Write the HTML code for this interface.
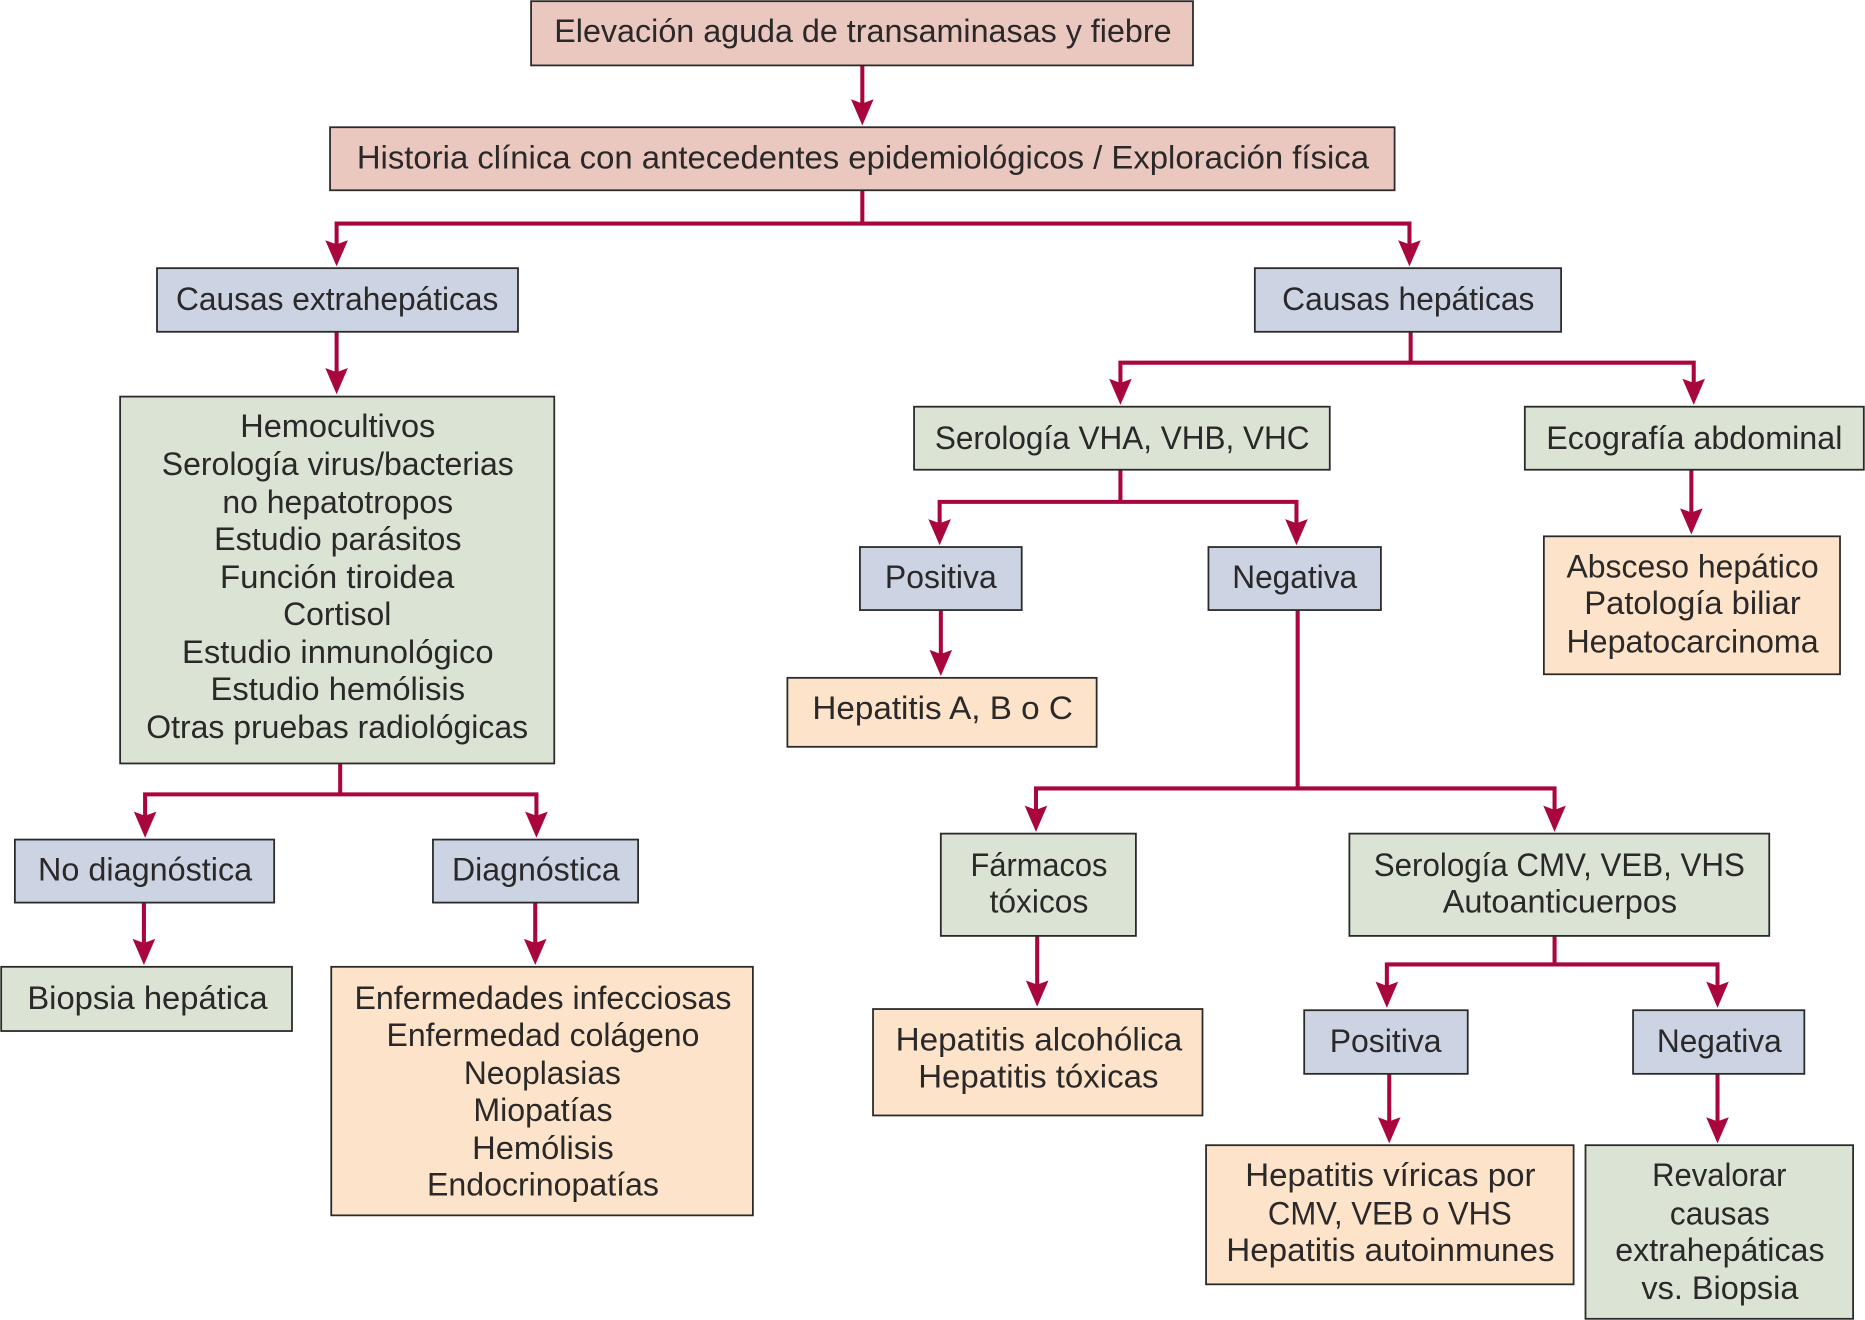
<!DOCTYPE html>
<html lang="es">
<head>
<meta charset="utf-8">
<title>Elevación aguda de transaminasas y fiebre</title>
<style>
html,body{margin:0;padding:0;background:#fff;width:1865px;height:1320px;overflow:hidden}
svg{display:block}
.p{fill:#eac8c0}.b{fill:#ccd3e3}.g{fill:#dae3d4}.o{fill:#fde3c9}
rect{stroke:#2b2a2a;stroke-width:1.5}
.c{fill:none;stroke:#a8063c;stroke-width:3.4}
.h{fill:#a8063c;stroke:none}
text{font-family:"Liberation Sans",sans-serif;font-size:27.5px;fill:#2a2828}
</style>
</head>
<body>
<svg width="1865" height="1320" viewBox="0 0 1568 1110" preserveAspectRatio="none" xmlns="http://www.w3.org/2000/svg">
<defs><polygon id="a" class="h" points="0,0 -9.5,-22 0,-18.500 9.500,-22"/></defs>

<path class="c" d="M725 55V92M725 160V188M283 210V188H1185V210M283 279V318M1186 279V305M942 327V305H1424V327M942 395V422M790 445V422H1090V445M791 513V555M1422 395V436M1091 513V663M871 686V663H1307V686M872 787V833M1307 787V811M1166 834V811H1444V834M1168 903V948M1444 903V948M286 642V668M122 691V668H451V691M121 759V798M450 759V798"/>
<use href="#a" x="725" y="105.500"/><use href="#a" x="283" y="224"/><use href="#a" x="1185" y="224"/><use href="#a" x="283" y="331.500"/>
<use href="#a" x="942" y="340.500"/><use href="#a" x="1424" y="340.500"/><use href="#a" x="790" y="458.500"/><use href="#a" x="1090" y="458.500"/>
<use href="#a" x="791" y="568.500"/><use href="#a" x="1422" y="449.500"/><use href="#a" x="871" y="699.500"/><use href="#a" x="1307" y="699.500"/>
<use href="#a" x="872" y="846.500"/><use href="#a" x="1166" y="847.500"/><use href="#a" x="1444" y="847.500"/><use href="#a" x="1168" y="961.500"/>
<use href="#a" x="1444" y="961.500"/><use href="#a" x="122" y="704.500"/><use href="#a" x="451" y="704.500"/><use href="#a" x="121" y="811.500"/><use href="#a" x="450" y="811.500"/>

<rect class="p" x="446.500" y="1" width="556.500" height="54"/>
<rect class="p" x="277.500" y="107" width="895" height="53"/>
<rect class="b" x="132" y="225.500" width="303.500" height="53.500"/>
<rect class="b" x="1055" y="225.500" width="257.500" height="53.500"/>
<rect class="g" x="101" y="333.500" width="365" height="308.500"/>
<rect class="g" x="768.500" y="342" width="349.500" height="53"/>
<rect class="g" x="1282" y="342" width="285" height="53"/>
<rect class="b" x="723" y="460" width="136" height="53"/>
<rect class="b" x="1016" y="460" width="145" height="53"/>
<rect class="o" x="1298" y="451" width="249" height="116"/>
<rect class="o" x="662" y="570" width="260" height="58"/>
<rect class="b" x="12.500" y="706" width="218" height="53"/>
<rect class="b" x="364" y="706" width="172.500" height="53"/>
<rect class="g" x="1" y="813" width="244.500" height="54"/>
<rect class="o" x="278.500" y="813" width="354.500" height="209"/>
<rect class="g" x="791" y="701" width="164" height="86"/>
<rect class="g" x="1134.500" y="701" width="353" height="86"/>
<rect class="o" x="734" y="848.500" width="277" height="89.500"/>
<rect class="b" x="1096.500" y="849.500" width="137.500" height="53.500"/>
<rect class="b" x="1373" y="849.500" width="144" height="53.500"/>
<rect class="o" x="1014" y="963" width="309" height="117"/>
<rect class="g" x="1333" y="963" width="225" height="146"/>

<text lengthAdjust="spacingAndGlyphs" x="466" y="35.500" textLength="519">Elevación aguda de transaminasas y fiebre</text>
<text lengthAdjust="spacingAndGlyphs" x="300" y="141.500" textLength="851">Historia clínica con antecedentes epidemiológicos / Exploración física</text>
<text lengthAdjust="spacingAndGlyphs" x="148" y="260.500" textLength="271">Causas extrahepáticas</text>
<text lengthAdjust="spacingAndGlyphs" x="1078" y="260.500" textLength="212">Causas hepáticas</text>

<text lengthAdjust="spacingAndGlyphs" x="202" y="367.500" textLength="164">Hemocultivos</text>
<text lengthAdjust="spacingAndGlyphs" x="136" y="399.500" textLength="296">Serología virus/bacterias</text>
<text lengthAdjust="spacingAndGlyphs" x="187" y="431.500" textLength="194">no hepatotropos</text>
<text lengthAdjust="spacingAndGlyphs" x="180" y="462.500" textLength="208">Estudio parásitos</text>
<text lengthAdjust="spacingAndGlyphs" x="185" y="494.500" textLength="197">Función tiroidea</text>
<text lengthAdjust="spacingAndGlyphs" x="238" y="525.500" textLength="91">Cortisol</text>
<text lengthAdjust="spacingAndGlyphs" x="153" y="557.500" textLength="262">Estudio inmunológico</text>
<text lengthAdjust="spacingAndGlyphs" x="177" y="588.500" textLength="214">Estudio hemólisis</text>
<text lengthAdjust="spacingAndGlyphs" x="123" y="620.500" textLength="321">Otras pruebas radiológicas</text>

<text lengthAdjust="spacingAndGlyphs" x="32" y="740.500" textLength="180">No diagnóstica</text>
<text lengthAdjust="spacingAndGlyphs" x="380" y="740.500" textLength="141">Diagnóstica</text>
<text lengthAdjust="spacingAndGlyphs" x="23" y="848.500" textLength="202">Biopsia hepática</text>

<text lengthAdjust="spacingAndGlyphs" x="298" y="848.500" textLength="317">Enfermedades infecciosas</text>
<text lengthAdjust="spacingAndGlyphs" x="325" y="879.500" textLength="263">Enfermedad colágeno</text>
<text lengthAdjust="spacingAndGlyphs" x="390" y="911.500" textLength="132">Neoplasias</text>
<text lengthAdjust="spacingAndGlyphs" x="398" y="942.500" textLength="117">Miopatías</text>
<text lengthAdjust="spacingAndGlyphs" x="397" y="974.500" textLength="119">Hemólisis</text>
<text lengthAdjust="spacingAndGlyphs" x="359" y="1005.500" textLength="195">Endocrinopatías</text>

<text lengthAdjust="spacingAndGlyphs" x="786" y="377.500" textLength="315">Serología VHA, VHB, VHC</text>
<text lengthAdjust="spacingAndGlyphs" x="1300" y="377.500" textLength="249">Ecografía abdominal</text>
<text lengthAdjust="spacingAndGlyphs" x="744" y="494.500" textLength="94">Positiva</text>
<text lengthAdjust="spacingAndGlyphs" x="1036" y="494.500" textLength="105">Negativa</text>
<text lengthAdjust="spacingAndGlyphs" x="683" y="604.500" textLength="219">Hepatitis A, B o C</text>

<text lengthAdjust="spacingAndGlyphs" x="1317" y="485.500" textLength="212">Absceso hepático</text>
<text lengthAdjust="spacingAndGlyphs" x="1332" y="516.500" textLength="182">Patología biliar</text>
<text lengthAdjust="spacingAndGlyphs" x="1317" y="548.500" textLength="212">Hepatocarcinoma</text>

<text lengthAdjust="spacingAndGlyphs" x="816" y="736.500" textLength="115">Fármacos</text>
<text lengthAdjust="spacingAndGlyphs" x="832" y="767.500" textLength="83">tóxicos</text>
<text lengthAdjust="spacingAndGlyphs" x="1155" y="736.500" textLength="312">Serología CMV, VEB, VHS</text>
<text lengthAdjust="spacingAndGlyphs" x="1213" y="767.500" textLength="197">Autoanticuerpos</text>

<text lengthAdjust="spacingAndGlyphs" x="753" y="883.500" textLength="241">Hepatitis alcohólica</text>
<text lengthAdjust="spacingAndGlyphs" x="772" y="914.500" textLength="202">Hepatitis tóxicas</text>
<text lengthAdjust="spacingAndGlyphs" x="1118" y="884.500" textLength="94">Positiva</text>
<text lengthAdjust="spacingAndGlyphs" x="1393" y="884.500" textLength="105">Negativa</text>

<text lengthAdjust="spacingAndGlyphs" x="1047" y="997.500" textLength="244">Hepatitis víricas por</text>
<text lengthAdjust="spacingAndGlyphs" x="1066" y="1029.500" textLength="205">CMV, VEB o VHS</text>
<text lengthAdjust="spacingAndGlyphs" x="1031" y="1060.500" textLength="276">Hepatitis autoinmunes</text>

<text lengthAdjust="spacingAndGlyphs" x="1389" y="997.500" textLength="113">Revalorar</text>
<text lengthAdjust="spacingAndGlyphs" x="1404" y="1029.500" textLength="84">causas</text>
<text lengthAdjust="spacingAndGlyphs" x="1358" y="1060.500" textLength="176">extrahepáticas</text>
<text lengthAdjust="spacingAndGlyphs" x="1380" y="1092.500" textLength="132">vs. Biopsia</text>
</svg>
</body>
</html>
